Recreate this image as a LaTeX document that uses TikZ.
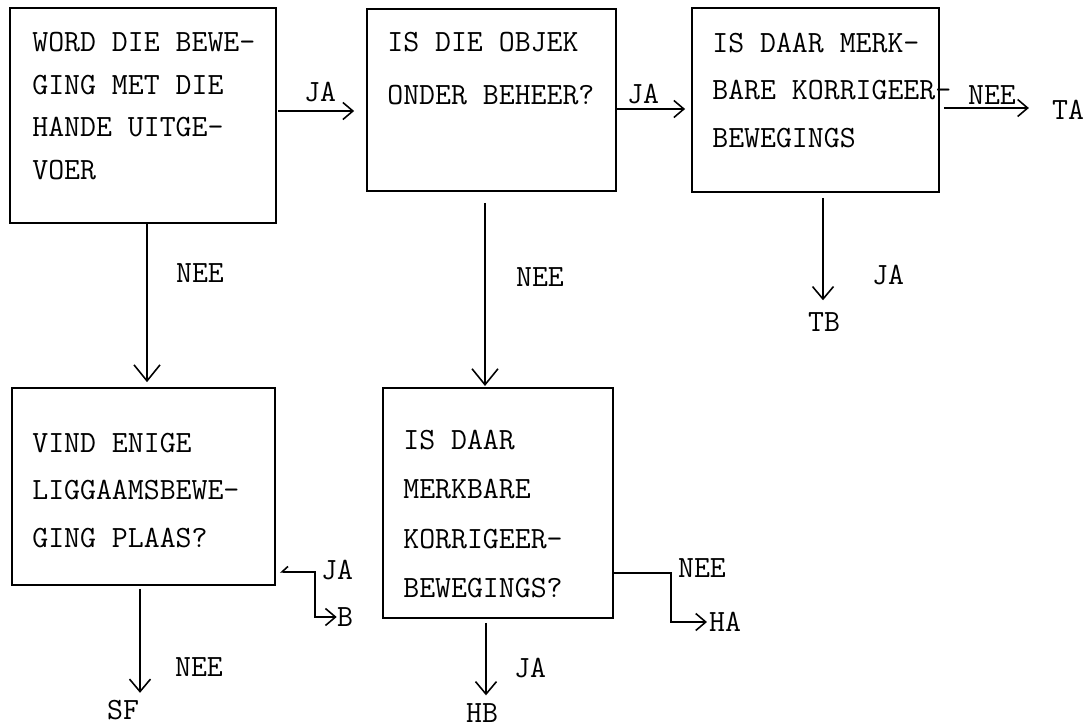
\documentclass[tikz,border=0pt]{standalone}
\usepackage{fontspec}
\usetikzlibrary{arrows.meta,calc,positioning}
\newcommand{\qfont}[1]{\ttfamily\fontsize{17.6pt}{#1}\selectfont}
\tikzset{
  qbox/.style  = {draw, line width=1.1pt, inner sep=0pt},
  qtext/.style = {anchor=north west, inner sep=0pt, align=left},
  lbl/.style   = {inner sep=0pt, font=\qfont{20pt}},
  flow/.style  = {line width=0.9pt, -{Straight Barb[length=2mm,width=3.4mm]}},
  drop/.style  = {line width=0.9pt, -{Straight Barb[length=3.2mm,width=5.2mm]}},
  exit/.style  = {line width=0.9pt, -{Straight Barb[length=2.5mm,width=4.2mm]}},
}

\begin{document}
\begin{tikzpicture}[x=0.02cm, y=-0.02cm]
  \useasboundingbox (0,0) rectangle (1088,727);

  % question boxes
  \node[qbox, minimum width=5.32cm, minimum height=4.30cm] (woord) at (143,115.5) {};
  \node[qbox, minimum width=4.98cm, minimum height=3.64cm] (objek) at (491.5,100) {};
  \node[qbox, minimum width=4.94cm, minimum height=3.68cm] (merk)  at (815.5,100) {};
  \node[qbox, minimum width=5.26cm, minimum height=3.94cm] (vind)  at (143.5,486.5) {};
  \node[qbox, minimum width=4.60cm, minimum height=4.60cm] (korr)  at (498,503) {};

  % box texts
  \node[qtext, font=\qfont{24.2pt}] (woordtxt) at (32,32)
    {WORD DIE BEWE-\\GING MET DIE\\HANDE UITGE-\\VOER};
  \node[qtext, font=\qfont{30pt}] (objektxt) at (387,32)
    {IS DIE OBJEK\\ONDER BEHEER?};
  \node[qtext, font=\qfont{26.9pt}] (merktxt) at (712,33)
    {IS DAAR MERK-\\BARE KORRIGEER-\\BEWEGINGS};
  \node[qtext, font=\qfont{26.9pt}] (vindtxt) at (32,433)
    {VIND ENIGE\\LIGGAAMSBEWE-\\GING PLAAS?};
  \node[qtext, font=\qfont{28pt}] (korrtxt) at (403,430)
    {IS DAAR\\MERKBARE\\KORRIGEER-\\BEWEGINGS?};

  % answers and end points
  \node[lbl] (ja1)  at (320,92)  {JA};
  \node[lbl] (ja2)  at (643,94)  {JA};
  \node[lbl] (nee3) at (992,95)  {NEE};
  \node[lbl] (ta)   at (1068,110) {TA};
  \node[lbl] (ja3)  at (888,275) {JA};
  \node[lbl] (tb)   at (824,322) {TB};
  \node[lbl] (nee1) at (200,273) {NEE};
  \node[lbl] (nee2) at (540,277) {NEE};
  \node[lbl] (nee4) at (199,667) {NEE};
  \node[lbl] (sf)   at (123,710) {SF};
  \node[lbl] (ja4)  at (337,570) {JA};
  \node[lbl] (b)    at (345,617) {B};
  \node[lbl] (nee5) at (702,568) {NEE};
  \node[lbl] (ha)   at (725,622) {HA};
  \node[lbl] (ja5)  at (530,668) {JA};
  \node[lbl] (hb)   at (482,713) {HB};

  % connectors
  \coordinate (wja) at ($(woord.east)+(1,-4.5)$);
  \draw[flow, shorten >=6.8pt] (wja) -- (wja -| objek.west);
  \coordinate (oja) at ($(objek.east)+(0,9)$);
  \draw[flow, shorten >=3.4pt] (oja) -- (oja -| merk.west);
  \coordinate (mnee) at ($(merk.east)+(4,8)$);
  \draw[flow, shorten >=13pt] (mnee) -- (mnee -| ta.west);
  \coordinate (mja) at ($(merk.south)+(7.5,5)$);
  \draw[exit, shorten >=6.8pt] (mja) -- (mja |- tb.north);

  \coordinate (wnee) at ($(woord.south)+(4,0)$);
  \draw[drop, shorten >=2.8pt] (wnee) -- (wnee |- vind.north);
  \coordinate (onee) at ($(objek.south)+(-6.5,11)$);
  \draw[drop, shorten >=0.6pt] (onee) -- (onee |- korr.north);

  \coordinate (vnee) at ($(vind.south)+(-3.5,3)$);
  \draw[exit, shorten >=4pt] (vnee) -- (vnee |- sf.north);
  \coordinate (vja) at ($(vind.south east)+(4,-14)$);
  \draw[line width=0.9pt, {Straight Barb[length=1.2mm,width=2.2mm,right]}-{Straight Barb[length=2mm,width=3.4mm]}]
    (vja) -- ++(35,0) |- (b.west);

  \coordinate (knee) at ($(korr.south east)+(0,-46)$);
  \draw[flow, shorten >=1pt] (knee) -- ++(57,0) |- (ha.west);
  \coordinate (kja) at ($(korr.south)+(-12,4)$);
  \draw[exit, shorten >=4.5pt] (kja) -- (kja |- hb.north);
\end{tikzpicture}
\end{document}
